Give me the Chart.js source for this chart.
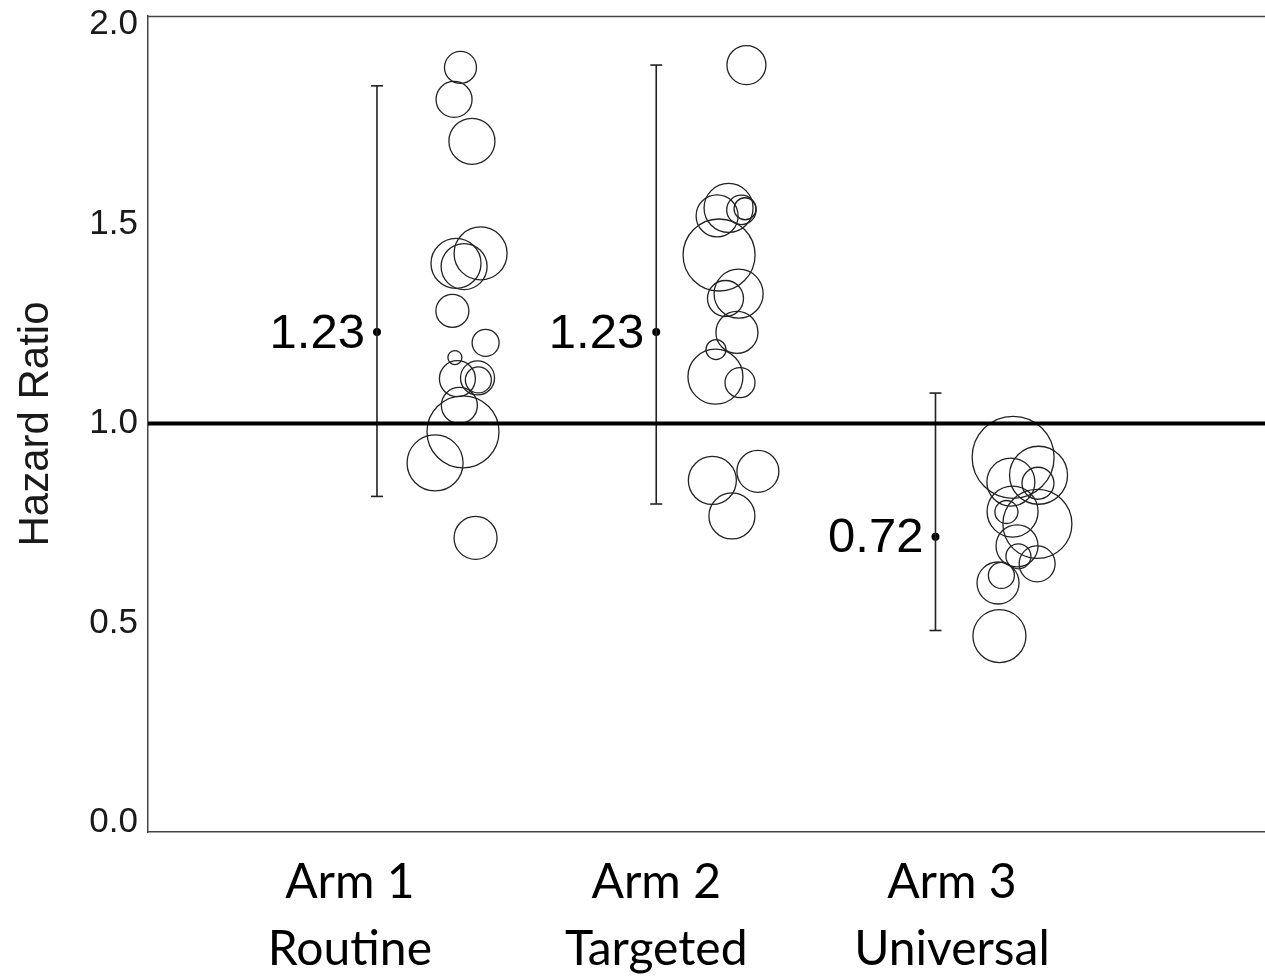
<!DOCTYPE html>
<html>
<head>
<meta charset="utf-8">
<script src="https://cdn.jsdelivr.net/npm/chart.js@4.4.1/dist/chart.umd.min.js"></script>
<style>
  html, body { margin: 0; padding: 0; background: #ffffff; }
  #wrap { width: 1265px; height: 980px; position: relative; }
</style>
</head>
<body>
<div id="wrap"><canvas id="c"></canvas></div>
<script>
// ---- data ----
const categoryLabels = [['Arm 1', 'Routine'], ['Arm 2', 'Targeted'], ['Arm 3', 'Universal']];
const categoryLabelPos = [0.903, 2.0, 3.059];
const yTicks = [0, 0.5, 1.0, 1.5, 2.0];

const armX = [1, 2, 3];
const estimates = [1.229, 1.229, 0.716];
const ciLow = [0.817, 0.798, 0.481];
const ciHigh = [1.846, 1.898, 1.076];
const estLabels = ['1.23', '1.23', '0.72'];
const referenceHR = 1.0;

const arm1X = [1.299, 1.276, 1.340, 1.371, 1.283, 1.312, 1.270, 1.389, 1.279, 1.288, 1.360, 1.363, 1.295, 1.308, 1.208, 1.353];
const arm1Y = [1.892, 1.812, 1.707, 1.426, 1.401, 1.393, 1.282, 1.202, 1.165, 1.112, 1.114, 1.109, 1.045, 0.979, 0.901, 0.713];
const arm1R = [16, 18, 23, 26.5, 25, 23, 16.5, 13.5, 7, 18, 17, 13, 18, 36, 28, 21.5];

const arm2X = [2.323, 2.259, 2.218, 2.305, 2.318, 2.225, 2.295, 2.248, 2.289, 2.214, 2.212, 2.300, 2.201, 2.364, 2.271];
const arm2Y = [1.898, 1.540, 1.520, 1.535, 1.538, 1.422, 1.325, 1.313, 1.228, 1.185, 1.117, 1.102, 0.857, 0.880, 0.768];
const arm2R = [19.5, 24.5, 21, 14.7, 11, 36, 24.5, 18, 21, 10, 27.5, 15, 24, 21, 23];

const arm3X = [3.278, 3.369, 3.270, 3.367, 3.276, 3.254, 3.365, 3.292, 3.297, 3.364, 3.224, 3.236, 3.229];
const arm3Y = [0.915, 0.870, 0.853, 0.850, 0.779, 0.778, 0.748, 0.693, 0.667, 0.648, 0.600, 0.619, 0.467];
const arm3R = [41, 29, 24, 16, 25.5, 11.5, 34.5, 21, 12.5, 18, 21, 13, 26.5];

// ---- build ----
function bubbles(xs, ys, rs) {
  return xs.map((x, i) => ({ x: x, y: ys[i], r: rs[i] }));
}
const INK = '#222222';

const bubbleStyle = {
  type: 'bubble',
  backgroundColor: 'rgba(0,0,0,0)',
  borderColor: INK,
  borderWidth: 1.3,
  hoverRadius: 0,
  clip: false
};

const datasets = [
  Object.assign({ label: 'Arm 1', data: bubbles(arm1X, arm1Y, arm1R) }, bubbleStyle),
  Object.assign({ label: 'Arm 2', data: bubbles(arm2X, arm2Y, arm2R) }, bubbleStyle),
  Object.assign({ label: 'Arm 3', data: bubbles(arm3X, arm3Y, arm3R) }, bubbleStyle)
];

armX.forEach((x, i) => {
  datasets.push({
    type: 'line',
    label: 'CI ' + (i + 1),
    data: [{ x: x, y: ciLow[i] }, { x: x, y: ciHigh[i] }],
    borderColor: INK,
    borderWidth: 1.6,
    pointStyle: 'line',
    pointRadius: 6,
    pointBorderWidth: 1.6,
    pointBorderColor: INK,
    fill: false
  });
});

datasets.push({
  type: 'scatter',
  label: 'Estimate',
  data: armX.map((x, i) => ({ x: x, y: estimates[i] })),
  backgroundColor: '#000',
  borderColor: '#000',
  pointRadius: 4,
  pointBorderWidth: 0
});

const decor = {
  id: 'decor',
  afterDatasetsDraw(chart) {
    const ctx = chart.ctx;
    const ca = chart.chartArea;
    const ys = chart.scales.y, xs = chart.scales.x;
    ctx.save();
    // top frame line
    ctx.strokeStyle = '#444';
    ctx.lineWidth = 1.5;
    ctx.beginPath();
    ctx.moveTo(ca.left, ca.top + 0.5);
    ctx.lineTo(ca.right, ca.top + 0.5);
    ctx.stroke();
    // reference line
    const yr = ys.getPixelForValue(referenceHR);
    ctx.strokeStyle = '#000';
    ctx.lineWidth = 4;
    ctx.beginPath();
    ctx.moveTo(ca.left, yr);
    ctx.lineTo(ca.right, yr);
    ctx.stroke();
    // estimate labels
    ctx.fillStyle = '#000';
    ctx.font = '49px "Liberation Sans", Arial, sans-serif';
    ctx.textAlign = 'right';
    ctx.textBaseline = 'middle';
    armX.forEach((x, i) => {
      const px = xs.getPixelForValue(x);
      const py = ys.getPixelForValue(estimates[i]);
      ctx.fillText(estLabels[i], px - 12, py + 2);
    });
    ctx.restore();
  }
};

new Chart(document.getElementById('c'), {
  type: 'bubble',
  data: { datasets: datasets },
  options: {
    responsive: true,
    maintainAspectRatio: false,
    animation: false,
    events: [],
    layout: { autoPadding: false, padding: { top: 16, right: 0, left: 0, bottom: 0 } },
    plugins: { legend: { display: false }, tooltip: { enabled: false } },
    scales: {
      x: {
        type: 'linear',
        min: 0.18,
        max: 4.18,
        afterFit(scale) {
          scale.height = 148;
          scale.paddingLeft = 0; scale.paddingRight = 0;
          scale.paddingTop = 0; scale.paddingBottom = 0;
        },
        afterBuildTicks(scale) { scale.ticks = categoryLabelPos.map(v => ({ value: v })); },
        grid: { display: false, drawTicks: false },
        border: { display: true, color: '#444', width: 1.5 },
        ticks: {
          padding: 17,
          color: '#000',
          maxRotation: 0,
          autoSkip: false,
          font: { family: 'Lato, "Open Sans", sans-serif', size: 48, lineHeight: 1.4 },
          callback(value, index) { return categoryLabels[index]; }
        }
      },
      y: {
        type: 'linear',
        min: -0.024,
        max: 2.021,
        afterFit(scale) {
          scale.width = 148;
          scale.paddingLeft = 0; scale.paddingRight = 0;
          scale.paddingTop = 0; scale.paddingBottom = 0;
        },
        afterBuildTicks(scale) { scale.ticks = yTicks.map(v => ({ value: v })); },
        grid: { display: false, drawTicks: false },
        border: { display: true, color: '#444', width: 1.5 },
        ticks: {
          padding: 10,
          color: '#1a1a1a',
          font: { family: '"Liberation Sans", Arial, sans-serif', size: 35 },
          callback(value) { return Number(value).toFixed(1); }
        },
        title: {
          display: true,
          text: 'Hazard Ratio',
          color: '#1a1a1a',
          font: { family: '"Liberation Sans", Arial, sans-serif', size: 42, lineHeight: 1.2 },
          padding: { top: 11, bottom: 0 }
        }
      }
    }
  },
  plugins: [decor]
});
</script>
</body>
</html>
